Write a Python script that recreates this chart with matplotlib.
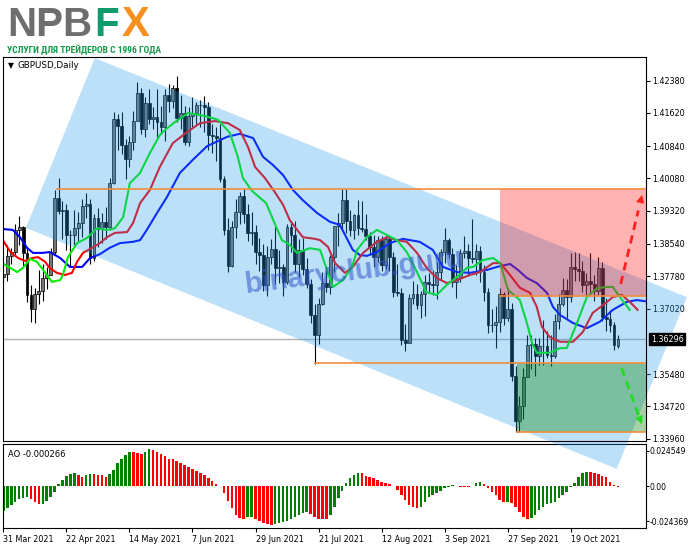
import numpy as np
import matplotlib
matplotlib.use("Agg")
import matplotlib.pyplot as plt
from matplotlib.patches import Polygon, Rectangle

# GBPUSD daily bars, 31 Mar 2021 .. 4 Nov 2021
opens = [
    1.3776, 1.3783, 1.3825, 1.3836, 1.3886, 1.3895, 1.3832, 1.3734, 1.3702, 1.3736,
    1.3743, 1.3775, 1.3781, 1.3836, 1.3963, 1.3931, 1.3935, 1.3876, 1.3874, 1.3892,
    1.3903, 1.3943, 1.3949, 1.3821, 1.3914, 1.3890, 1.3906, 1.3895, 1.3997, 1.4147,
    1.4131, 1.4087, 1.4053, 1.4094, 1.4144, 1.4210, 1.4124, 1.4185, 1.4148, 1.4152,
    1.4142, 1.4128, 1.4205, 1.4190, 1.4221, 1.4150, 1.4163, 1.4093, 1.4155, 1.4161,
    1.4180, 1.4180, 1.4177, 1.4110, 1.4108, 1.4104, 1.4006, 1.3887, 1.3802, 1.3893,
    1.3930, 1.3967, 1.3924, 1.3880, 1.3883, 1.3835, 1.3829, 1.3757, 1.3823, 1.3842,
    1.3797, 1.3800, 1.3765, 1.3893, 1.3874, 1.3806, 1.3840, 1.3794, 1.3760, 1.3686,
    1.3641, 1.3712, 1.3762, 1.3752, 1.3823, 1.3896, 1.3904, 1.3957, 1.3907, 1.3887,
    1.3922, 1.3892, 1.3890, 1.3873, 1.3847, 1.3823, 1.3863, 1.3804, 1.3866, 1.3823,
    1.3741, 1.3739, 1.3627, 1.3622, 1.3727, 1.3736, 1.3710, 1.3736, 1.3765, 1.3760,
    1.3758, 1.3787, 1.3834, 1.3863, 1.3830, 1.3765, 1.3775, 1.3833, 1.3838, 1.3820,
    1.3819, 1.3837, 1.3788, 1.3741, 1.3663, 1.3663, 1.3670, 1.3737, 1.3679, 1.3701,
    1.3544, 1.3437, 1.3474, 1.3540, 1.3617, 1.3618, 1.3591, 1.3614, 1.3615, 1.3593,
    1.3590, 1.3672, 1.3713, 1.3746, 1.3730, 1.3800, 1.3794, 1.3791, 1.3757, 1.3767,
    1.3761, 1.3744, 1.3798, 1.3682, 1.3677, 1.3663, 1.3613,
]
highs = [
    1.3811, 1.3851, 1.3845, 1.3900, 1.3920, 1.3897, 1.3847, 1.3757, 1.3750, 1.3793,
    1.3806, 1.3800, 1.3845, 1.3980, 1.4009, 1.3955, 1.3947, 1.3887, 1.3934, 1.3928,
    1.3960, 1.3975, 1.3959, 1.3925, 1.3939, 1.3926, 1.3940, 1.4008, 1.4165, 1.4160,
    1.4165, 1.4100, 1.4107, 1.4166, 1.4234, 1.4220, 1.4200, 1.4219, 1.4176, 1.4218,
    1.4178, 1.4218, 1.4230, 1.4228, 1.4249, 1.4205, 1.4178, 1.4175, 1.4200, 1.4187,
    1.4193, 1.4201, 1.4189, 1.4135, 1.4130, 1.4135, 1.4014, 1.3916, 1.3907, 1.3959,
    1.3976, 1.3984, 1.3948, 1.3928, 1.3899, 1.3867, 1.3855, 1.3850, 1.3866, 1.3895,
    1.3840, 1.3808, 1.3900, 1.3908, 1.3909, 1.3865, 1.3867, 1.3820, 1.3771, 1.3713,
    1.3727, 1.3787, 1.3797, 1.3829, 1.3896, 1.3927, 1.3983, 1.3983, 1.3933, 1.3925,
    1.3958, 1.3955, 1.3925, 1.3882, 1.3875, 1.3873, 1.3872, 1.3874, 1.3870, 1.3834,
    1.3806, 1.3751, 1.3665, 1.3736, 1.3766, 1.3760, 1.3743, 1.3780, 1.3786, 1.3793,
    1.3811, 1.3842, 1.3891, 1.3869, 1.3844, 1.3805, 1.3843, 1.3872, 1.3854, 1.3913,
    1.3853, 1.3849, 1.3804, 1.3751, 1.3701, 1.3708, 1.3750, 1.3742, 1.3750, 1.3715,
    1.3567, 1.3497, 1.3562, 1.3640, 1.3640, 1.3633, 1.3633, 1.3674, 1.3650, 1.3640,
    1.3689, 1.3737, 1.3773, 1.3771, 1.3833, 1.3834, 1.3832, 1.3813, 1.3786, 1.3832,
    1.3782, 1.3824, 1.3812, 1.3728, 1.3698, 1.3670, 1.3640,
]
lows = [
    1.3738, 1.3767, 1.3807, 1.3825, 1.3851, 1.3803, 1.3718, 1.3670, 1.3668, 1.3712,
    1.3721, 1.3747, 1.3780, 1.3830, 1.3925, 1.3865, 1.3840, 1.3802, 1.3851, 1.3861,
    1.3871, 1.3915, 1.3806, 1.3815, 1.3848, 1.3856, 1.3866, 1.3886, 1.3995, 1.4076,
    1.4066, 1.4006, 1.4035, 1.4075, 1.4143, 1.4113, 1.4106, 1.4137, 1.4124, 1.4105,
    1.4113, 1.4096, 1.4164, 1.4173, 1.4141, 1.4125, 1.4087, 1.4084, 1.4130, 1.4137,
    1.4130, 1.4117, 1.4074, 1.4068, 1.4048, 1.4000, 1.3875, 1.3787, 1.3800, 1.3868,
    1.3900, 1.3903, 1.3860, 1.3851, 1.3806, 1.3790, 1.3744, 1.3732, 1.3806, 1.3759,
    1.3762, 1.3731, 1.3760, 1.3834, 1.3788, 1.3777, 1.3780, 1.3751, 1.3669, 1.3572,
    1.3618, 1.3710, 1.3740, 1.3737, 1.3787, 1.3849, 1.3890, 1.3880, 1.3872, 1.3866,
    1.3874, 1.3882, 1.3863, 1.3829, 1.3800, 1.3812, 1.3791, 1.3794, 1.3790, 1.3729,
    1.3731, 1.3616, 1.3602, 1.3620, 1.3713, 1.3700, 1.3681, 1.3684, 1.3740, 1.3733,
    1.3724, 1.3770, 1.3810, 1.3822, 1.3752, 1.3727, 1.3764, 1.3822, 1.3779, 1.3810,
    1.3780, 1.3765, 1.3720, 1.3644, 1.3646, 1.3610, 1.3646, 1.3664, 1.3673, 1.3532,
    1.3412, 1.3412, 1.3442, 1.3540, 1.3560, 1.3544, 1.3569, 1.3570, 1.3586, 1.3567,
    1.3586, 1.3655, 1.3709, 1.3680, 1.3718, 1.3767, 1.3766, 1.3740, 1.3734, 1.3736,
    1.3720, 1.3733, 1.3672, 1.3650, 1.3647, 1.3605, 1.3610,
]
closes = [
    1.3783, 1.3825, 1.3836, 1.3886, 1.3895, 1.3832, 1.3734, 1.3702, 1.3736, 1.3743,
    1.3775, 1.3781, 1.3836, 1.3963, 1.3931, 1.3935, 1.3876, 1.3874, 1.3892, 1.3903,
    1.3943, 1.3949, 1.3821, 1.3914, 1.3890, 1.3906, 1.3895, 1.3997, 1.4147, 1.4131,
    1.4087, 1.4053, 1.4094, 1.4144, 1.4210, 1.4124, 1.4185, 1.4148, 1.4152, 1.4142,
    1.4128, 1.4205, 1.4190, 1.4221, 1.4150, 1.4163, 1.4093, 1.4155, 1.4161, 1.4180,
    1.4180, 1.4177, 1.4110, 1.4108, 1.4104, 1.4006, 1.3887, 1.3802, 1.3893, 1.3930,
    1.3967, 1.3924, 1.3880, 1.3883, 1.3835, 1.3829, 1.3757, 1.3823, 1.3842, 1.3797,
    1.3800, 1.3765, 1.3893, 1.3874, 1.3806, 1.3840, 1.3794, 1.3760, 1.3686, 1.3641,
    1.3712, 1.3762, 1.3752, 1.3823, 1.3896, 1.3904, 1.3957, 1.3907, 1.3887, 1.3922,
    1.3892, 1.3890, 1.3873, 1.3847, 1.3823, 1.3863, 1.3804, 1.3866, 1.3823, 1.3741,
    1.3739, 1.3627, 1.3622, 1.3727, 1.3736, 1.3710, 1.3736, 1.3765, 1.3760, 1.3758,
    1.3787, 1.3834, 1.3863, 1.3830, 1.3765, 1.3775, 1.3833, 1.3838, 1.3820, 1.3819,
    1.3837, 1.3788, 1.3741, 1.3663, 1.3663, 1.3670, 1.3737, 1.3679, 1.3701, 1.3544,
    1.3437, 1.3474, 1.3540, 1.3617, 1.3618, 1.3591, 1.3614, 1.3615, 1.3593, 1.3590,
    1.3672, 1.3713, 1.3746, 1.3730, 1.3800, 1.3794, 1.3791, 1.3757, 1.3767, 1.3761,
    1.3744, 1.3798, 1.3682, 1.3677, 1.3663, 1.3617, 1.36296,
]

# Alligator lines (bar index, price)
jaw_bars = [0, 2.4, 4.2, 6, 7.5, 10, 11.8, 14.4, 16.9, 20, 22, 24.5, 27, 29.6, 32.9, 34.7,
            36.4, 39, 41.5, 44.8, 48.1, 51.7, 56.8, 60, 63.4, 65.9, 68.4, 71, 73.5, 76,
            79.6, 82.9, 85.4, 88.7, 90.5, 92.3, 94.8, 98.1, 101.4, 105.7, 109, 111.6,
            115.1, 118.4, 122.8, 125.3, 128.6, 130.6, 132.9, 135.4, 138, 139.5, 141.3,
            144.6, 148.1, 151.4, 154.7, 158.3, 160.8, 164]
jaw_vals = [1.3889, 1.3887, 1.3870, 1.3845, 1.3833, 1.3833, 1.3835, 1.3821, 1.3800, 1.3800,
            1.3821, 1.3830, 1.3845, 1.3856, 1.3859, 1.3863, 1.3887, 1.3927, 1.3964, 1.4021,
            1.4052, 1.4084, 1.4106, 1.4113, 1.4103, 1.4059, 1.4040, 1.4016, 1.3981, 1.3957,
            1.3927, 1.3906, 1.3899, 1.3840, 1.3828, 1.3826, 1.3835, 1.3856, 1.3866, 1.3859,
            1.3840, 1.3800, 1.3788, 1.3786, 1.3793, 1.3800, 1.3807, 1.3793, 1.3774, 1.3762,
            1.3739, 1.3706, 1.3687, 1.3668, 1.3656, 1.3671, 1.3699, 1.3718, 1.3722, 1.3718]

teeth_bars = [0, 1.7, 3.7, 5.5, 7.3, 8.8, 10.6, 11.8, 13.6, 15.6, 17.4, 18.7, 20.2, 22.5,
              24.5, 26.3, 28.3, 31.4, 32.9, 34.7, 37.2, 39.7, 43, 46.6, 49.9, 53.7, 57, 60,
              62.1, 63.9, 66.4, 68.9, 71, 72.7, 76, 79.1, 80.4, 82.4, 84.2, 86.7, 88.7, 91.3,
              94.8, 97.4, 99.9, 102.4, 105, 107.5, 110, 112.6, 115.1, 118.4, 121, 124.3,
              126.1, 128.6, 131.1, 133.7, 135.4, 136.7, 138.7, 141.3, 144.6, 147.1, 149.6,
              152.2, 154.7, 157, 159, 161]
teeth_vals = [1.3861, 1.3836, 1.3821, 1.3814, 1.3821, 1.3823, 1.3812, 1.3797, 1.3786, 1.3781,
              1.3786, 1.3812, 1.3833, 1.3845, 1.3856, 1.3870, 1.3880, 1.3882, 1.3903, 1.3950,
              1.3981, 1.4035, 1.4091, 1.4117, 1.4138, 1.4143, 1.4138, 1.4122, 1.4082, 1.4035,
              1.4009, 1.3976, 1.3946, 1.3910, 1.3870, 1.3866, 1.3863, 1.3847, 1.3809, 1.3786,
              1.3800, 1.3833, 1.3859, 1.3870, 1.3863, 1.3859, 1.3833, 1.3797, 1.3774, 1.3762,
              1.3769, 1.3781, 1.3788, 1.3809, 1.3809, 1.3781, 1.3751, 1.3739, 1.3706, 1.3659,
              1.3635, 1.3624, 1.3624, 1.3647, 1.3692, 1.3710, 1.3729, 1.3734, 1.3718, 1.3699]

lips_bars = [0, 1.7, 3.5, 5, 6.8, 8.5, 10.1, 12.3, 14.4, 15.1, 16.4, 18.7, 21.2, 23.8, 26.3,
             28.3, 30.4, 32.1, 34.7, 37.2, 39.7, 41, 43.6, 46.9, 51.2, 54.5, 57.5, 59.5, 60.8,
             63.1, 66.7, 68.7, 70.7, 72.7, 74.5, 77.8, 80.4, 82.4, 83.7, 86.2, 88.5, 89.8,
             92.3, 94.8, 97.4, 99.9, 102.4, 105, 107.3, 110, 112.6, 115.1, 117.7, 119.2,
             121.7, 124.3, 126.1, 128.1, 131.1, 132.9, 134.2, 135.4, 138.7, 141.3, 143,
             145.6, 148.1, 150.7, 153.2, 154.7, 156.5, 159]
lips_vals = [1.3807, 1.3798, 1.3788, 1.3798, 1.3819, 1.3812, 1.3793, 1.3765, 1.3769, 1.3781,
             1.3823, 1.3856, 1.3868, 1.3891, 1.3887, 1.3891, 1.3917, 1.3997, 1.4021, 1.4068,
             1.4110, 1.4122, 1.4141, 1.4162, 1.4155, 1.4146, 1.4115, 1.4059, 1.4009, 1.3979,
             1.3950, 1.3906, 1.3863, 1.3852, 1.3833, 1.3844, 1.3840, 1.3786, 1.3753, 1.3769,
             1.3800, 1.3840, 1.3870, 1.3887, 1.3875, 1.3863, 1.3835, 1.3788, 1.3741, 1.3734,
             1.3758, 1.3776, 1.3798, 1.3800, 1.3816, 1.3821, 1.3809, 1.3746, 1.3722, 1.3668,
             1.3621, 1.3598, 1.3598, 1.3609, 1.3609, 1.3668, 1.3729, 1.3750, 1.3753, 1.3753,
             1.3729, 1.3699]

# Awesome Oscillator, one value per bar
ao_vals = [
    -0.0171, -0.0153, -0.0130, -0.0111, -0.0086, -0.0081, -0.0076, -0.0090, -0.0107, -0.0123,
    -0.0120, -0.0104, -0.0076, -0.0042, 0.0014, 0.0044, 0.0069, 0.0086, 0.0089, 0.0076,
    0.0065, 0.0080, 0.0088, 0.0083, 0.0082, 0.0081, 0.0063, 0.0083, 0.0116, 0.0160,
    0.0188, 0.0220, 0.0239, 0.0235, 0.0234, 0.0224, 0.0241, 0.0259, 0.0252, 0.0237,
    0.0222, 0.0213, 0.0192, 0.0190, 0.0178, 0.0161, 0.0148, 0.0137, 0.0120, 0.0103,
    0.0091, 0.0079, 0.0060, 0.0038, 0.0019, 0.0005, -0.0044, -0.0102, -0.0153, -0.0199,
    -0.0222, -0.0229, -0.0216, -0.0212, -0.0226, -0.0238, -0.0252, -0.0262, -0.0268, -0.0263,
    -0.0258, -0.0250, -0.0240, -0.0228, -0.0215, -0.0200, -0.0185, -0.0177, -0.0190, -0.0210,
    -0.0225, -0.0227, -0.0228, -0.0199, -0.0141, -0.0083, -0.0030, 0.0021, 0.0056, 0.0079,
    0.0095, 0.0090, 0.0072, 0.0063, 0.0056, 0.0044, 0.0028, 0.0021, 0.0014, 0.0002,
    -0.0025, -0.0060, -0.0095, -0.0130, -0.0141, -0.0153, -0.0141, -0.0107, -0.0076, -0.0060,
    -0.0049, -0.0030, -0.0014, -0.0002, 0.0007, 0.0004, -0.0003, -0.0005, -0.0006, 0.0004,
    0.0021, 0.0030, 0.0016, -0.0014, -0.0037, -0.0060, -0.0095, -0.0111, -0.0108, -0.0113,
    -0.0141, -0.0176, -0.0211, -0.0227, -0.0222, -0.0199, -0.0164, -0.0141, -0.0125, -0.0118,
    -0.0107, -0.0083, -0.0060, -0.0037, -0.0002, 0.0021, 0.0067, 0.0090, 0.0097, 0.0096,
    0.0090, 0.0083, 0.0074, 0.0063, 0.0032, 0.0011, -0.0003,
]

date_labels = ["31 Mar 2021", "22 Apr 2021", "14 May 2021", "7 Jun 2021", "29 Jun 2021",
               "21 Jul 2021", "12 Aug 2021", "3 Sep 2021", "27 Sep 2021", "19 Oct 2021"]
date_bars = [0, 16, 32, 48, 64, 80, 96, 112, 128, 144]
price_ticks = [1.42380, 1.41620, 1.40840, 1.40080, 1.39320, 1.38540, 1.37780, 1.37020,
               1.35480, 1.34720, 1.33960]
last_price = 1.36296

# drawn objects: levels, zones, channel, forecast arrows
level_prices = [1.3984, 1.3732, 1.3574, 1.3411]
level_from = [13.6, 126, 79, 130.4]
sell_zone = (126, 1.3732, 1.3984)
buy_zone = (130.4, 1.3411, 1.3574)
channel = [(5.7, 1.3892), (23.2, 1.4291), (173.5, 1.3729), (155.7, 1.3325)]
up_arrow = [(156.7, 1.3760), (162.3, 1.3976)]
down_arrow = [(156.9, 1.3562), (162.3, 1.3424)]

W, H = 691, 549
fig = plt.figure(figsize=(W / 100, H / 100), dpi=100)
ax = fig.add_axes([3 / W, 1 - 441 / H, 642.5 / W, 384 / H])
ax2 = fig.add_axes([3 / W, 1 - 528.3 / H, 642.5 / W, 84.3 / H])
ax.set_zorder(1)
ax2.set_zorder(0)

XMAX = 163.0
x = np.arange(len(closes))
o = np.array(opens)
c = np.array(closes)

# candles
ax.vlines(x, lows, highs, color="black", lw=0.8, zorder=2.0)
up = c >= o
body = np.maximum(np.abs(c - o), 0.00006)
ax.bar(x[up], body[up], bottom=np.minimum(o, c)[up], width=0.72,
       color="#777777", edgecolor="black", lw=0.5, zorder=2.01)
ax.bar(x[~up], body[~up], bottom=np.minimum(o, c)[~up], width=0.72,
       color="black", edgecolor="black", lw=0.5, zorder=2.01)

ax.axhline(last_price, color="#b4b4b4", lw=1, zorder=1.9)

# alligator
ax.plot(jaw_bars, jaw_vals, color="#0000ff", lw=1.5, zorder=2.1)
ax.plot(teeth_bars, teeth_vals, color="#ff0000", lw=1.5, zorder=2.1)
ax.plot(lips_bars, lips_vals, color="#00ee00", lw=1.5, zorder=2.1)

# channel, drawn over the chart and beyond the frame
ax.add_patch(Polygon(channel, closed=True, facecolor=(38 / 255, 155 / 255, 238 / 255),
                     alpha=0.3, edgecolor="none", clip_on=False, zorder=2.3))
ax.add_patch(Rectangle((sell_zone[0], sell_zone[1]), XMAX - sell_zone[0],
                       sell_zone[2] - sell_zone[1], facecolor="red", alpha=0.3,
                       edgecolor="none", zorder=2.35))
ax.add_patch(Rectangle((buy_zone[0], buy_zone[1]), XMAX - buy_zone[0],
                       buy_zone[2] - buy_zone[1], facecolor="#008000", alpha=0.35,
                       edgecolor="none", zorder=2.35))

for p, x0 in zip(level_prices, level_from):
    ax.plot([x0, XMAX], [p, p], color="#f28c3c", lw=1.2, zorder=2.6)

for (a, b), col in [(up_arrow, "#ff2020"), (down_arrow, "#22dd22")]:
    ax.plot([a[0], a[0] + (b[0] - a[0]) * 0.8], [a[1], a[1] + (b[1] - a[1]) * 0.8],
            color=col, lw=2, dashes=(3, 2), zorder=3, clip_on=False)
    ax.annotate("", xy=b, xytext=(a[0] + (b[0] - a[0]) * 0.75, a[1] + (b[1] - a[1]) * 0.75),
                arrowprops=dict(arrowstyle="-|>", color=col, lw=0, mutation_scale=15),
                zorder=3, annotation_clip=False)

ax.set_xlim(-0.1, XMAX)
ax.set_ylim(1.33906, 1.42937)
ax.set_xticks([])
ax.yaxis.tick_right()
ax.set_yticks(price_ticks)
ax.set_yticklabels([f"{v:.5f}" for v in price_ticks])
ax.tick_params(axis="y", direction="out", length=3, width=0.8, pad=2, labelsize=5.8)
for s in ax.spines.values():
    s.set_linewidth(0.8)

ax.annotate(f"{last_price:.5f}", xy=(1.0, last_price), xycoords=("axes fraction", "data"),
            xytext=(4, 0), textcoords="offset points", va="center", ha="left",
            fontsize=5.8, color="white", zorder=5, annotation_clip=False,
            bbox=dict(boxstyle="square,pad=0.2", fc="black", ec="black"))

ax.text(0.0075, 0.977, "\u25bc", transform=ax.transAxes, fontsize=5.5, va="center", zorder=5)
ax.text(0.0218, 0.977, "GBPUSD,Daily", transform=ax.transAxes, fontsize=6.3, va="center",
        zorder=5)

# AO histogram
ao = np.array(ao_vals)
rising = np.diff(ao, prepend=ao[0]) >= 0
ax2.bar(x, ao, width=0.65, color=np.where(rising, "#008000", "#ff0000"), lw=0)
ax2.set_xlim(-0.1, XMAX)
ax2.set_ylim(-0.02919, 0.02940)
ax2.yaxis.tick_right()
ax2.set_yticks([0.024549, 0.0, -0.024369])
ax2.set_yticklabels(["0.024549", "0.00", "-0.024369"])
ax2.set_xticks(date_bars)
ax2.set_xticklabels(date_labels, ha="left")
ax2.tick_params(axis="x", direction="out", length=3, width=0.8, pad=2, labelsize=5.8)
ax2.tick_params(axis="y", direction="out", length=2, width=0.8, pad=1, labelsize=5.5)
for s in ax2.spines.values():
    s.set_linewidth(0.8)
ax2.text(0.0078, 0.88, "AO -0.000266", transform=ax2.transAxes, fontsize=6, va="center")

# header logo
logo_font = ["Liberation Sans", "DejaVu Sans"]
fig.text(7 / W, 1 - 35.5 / H, "NPB", fontsize=29, fontweight="bold", color="#6d6e70",
         family=logo_font, va="baseline")
fig.text(94 / W, 1 - 35.5 / H, "F", fontsize=29, fontweight="bold", color="#0e9c6b",
         family=logo_font, va="baseline")
fig.text(122 / W, 1 - 35.5 / H, "X", fontsize=30, fontweight="bold", color="#f7901e",
         family=logo_font, va="baseline")
fig.text(7 / W, 1 - 53 / H, "УСЛУГИ ДЛЯ ТРЕЙДЕРОВ С 1996 ГОДА", fontsize=6.8,
         fontweight="bold", color="#139a4a",
         family=["Roboto Condensed", "Liberation Sans Narrow", "DejaVu Sans Condensed",
                 "Roboto"], va="baseline")

# watermark
fig.text(245 / W, 1 - 293 / H, "binaryclub.guru", fontsize=21, fontweight="bold",
         family=logo_font, color="#3256c8", alpha=0.55,
         rotation=7, rotation_mode="anchor", ha="left", va="baseline", zorder=10)

fig.savefig("out.png", dpi=100)
